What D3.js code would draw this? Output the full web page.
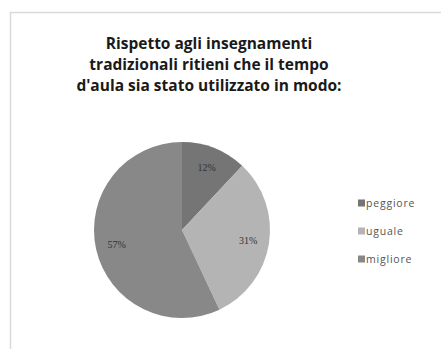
<!DOCTYPE html>
<html>
<head>
<meta charset="utf-8">
<script src="https://cdn.jsdelivr.net/npm/d3@7"></script>
<style>
  body { margin: 0; background: #fff; }
  svg { display: block; }
</style>
</head>
<body>
<svg id="chart" width="441" height="349"></svg>
<script>
// data
const categories = ["peggiore", "uguale", "migliore"];
const values = [12, 31, 57];
const colors = ["#757575", "#b4b4b4", "#888888"];
const titleLines = [
    "Rispetto agli insegnamenti",
    "tradizionali ritieni che il tempo",
    "d'aula sia stato utilizzato in modo:"
];

const svg = d3.select("#chart");

// chart frame
svg.append("rect")
    .attr("x", 10.5).attr("y", 12.5)
    .attr("width", 440).attr("height", 350)
    .attr("fill", "#fff")
    .attr("stroke", "#d9d9d9")
    .attr("stroke-width", 1.5);

// title
svg.append("text")
    .attr("text-anchor", "middle")
    .attr("font-family", "Open Sans, sans-serif")
    .attr("font-weight", "bold")
    .attr("font-size", 15.5)
    .attr("letter-spacing", 0)
    .attr("fill", "#1a1a1a")
    .selectAll("tspan")
    .data(titleLines)
    .enter()
    .append("tspan")
    .attr("x", 209)
    .attr("y", (d, i) => 49 + i * 21)
    .text(d => d);

// pie
const cx = 182, cy = 230, r = 88;
const pie = d3.pie().sort(null).value(d => d);
const arc = d3.arc().innerRadius(0).outerRadius(r);
const labelArc = d3.arc().innerRadius(r * 0.76).outerRadius(r * 0.76);

const g = svg.append("g").attr("transform", `translate(${cx},${cy})`);
const arcs = pie(values);

g.selectAll("path")
    .data(arcs)
    .enter()
    .append("path")
    .attr("d", arc)
    .attr("fill", (d, i) => colors[i]);

g.selectAll("text")
    .data(arcs)
    .enter()
    .append("text")
    .attr("transform", d => `translate(${labelArc.centroid(d)})`)
    .attr("text-anchor", "middle")
    .attr("dy", "0.35em")
    .attr("font-family", "Liberation Serif, serif")
    .attr("font-size", 10)
    .attr("fill", "#333")
    .text(d => d.data + "%");

// legend
const legend = svg.append("g").attr("transform", "translate(358,203)");
const rows = legend.selectAll("g")
    .data(categories)
    .enter()
    .append("g")
    .attr("transform", (d, i) => `translate(0,${i * 28})`);

rows.append("rect")
    .attr("x", 0).attr("y", -3.5)
    .attr("width", 7).attr("height", 7)
    .attr("fill", (d, i) => colors[i]);

rows.append("text")
    .attr("x", 8)
    .attr("dy", "0.35em")
    .attr("font-family", "Open Sans, sans-serif")
    .attr("font-size", 10.5)
    .attr("letter-spacing", 0.8)
    .attr("fill", "#555")
    .text(d => d);
</script>
</body>
</html>
